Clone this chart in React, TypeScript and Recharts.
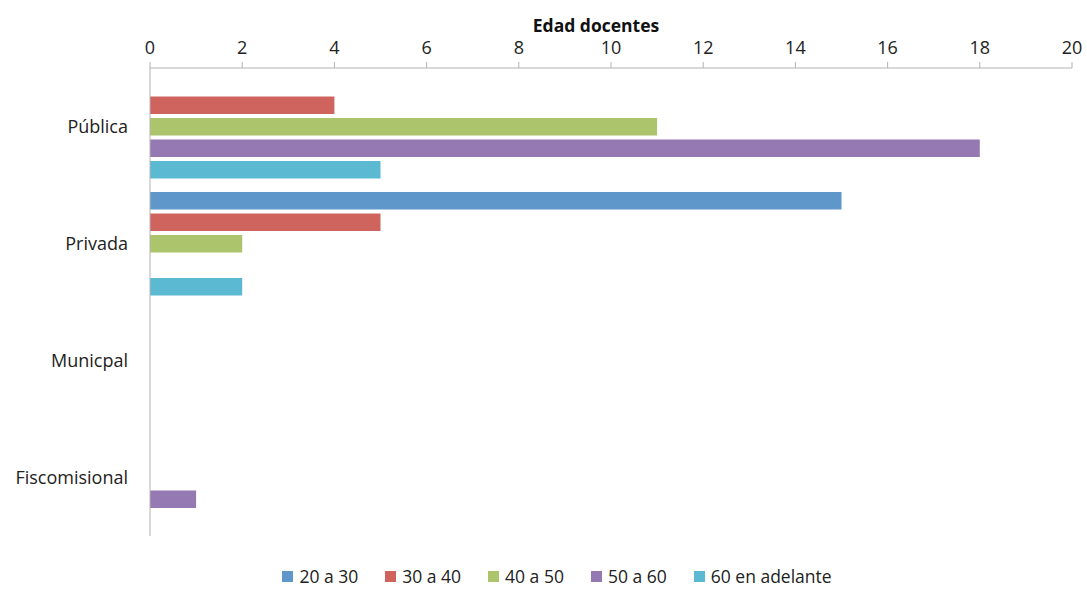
import { BarChart, Bar, XAxis, YAxis, Legend } from 'recharts';

const categories = ['Pública', 'Privada', 'Municpal', 'Fiscomisional'];
const s20a30 = [0, 15, 0, 0];
const s30a40 = [4, 5, 0, 0];
const s40a50 = [11, 2, 0, 0];
const s50a60 = [18, 0, 0, 1];
const s60mas = [5, 2, 0, 0];
const xTicks = [0, 2, 4, 6, 8, 10, 12, 14, 16, 18, 20];

const SERIES = [
  { key: 'a', name: '20 a 30', color: '#5F97CA', values: s20a30 },
  { key: 'b', name: '30 a 40', color: '#CF645F', values: s30a40 },
  { key: 'c', name: '40 a 50', color: '#ACC46C', values: s40a50 },
  { key: 'd', name: '50 a 60', color: '#9479B3', values: s50a60 },
  { key: 'e', name: '60 en adelante', color: '#5BBAD1', values: s60mas },
];

const data = categories.map((cat, i) => {
  const row: any = { cat };
  SERIES.forEach(s => { row[s.key] = s.values[i]; });
  return row;
});

const FONT = '"Open Sans", sans-serif';
const AXIS = '#b3b3b3';

function LegendBox() {
  return (
    <div style={{ display: 'flex', justifyContent: 'center', gap: 27, fontFamily: FONT, fontSize: 17.5, color: '#222', lineHeight: '24px' }}>
      {SERIES.map(s => (
        <div key={s.key} style={{ display: 'flex', alignItems: 'center', gap: 6 }}>
          <span style={{ width: 11, height: 11, background: s.color, display: 'inline-block' }} />
          <span>{s.name}</span>
        </div>
      ))}
    </div>
  );
}

export default function App() {
  return (
    <div style={{ position: 'absolute', left: 0, top: 0, width: 1087, height: 592, background: 'white' }}>
      <div style={{ position: 'absolute', left: 496, width: 200, top: 13, textAlign: 'center', fontFamily: FONT, fontSize: 17.5, fontWeight: 700, color: '#111' }}>
        Edad docentes
      </div>
      <BarChart
        layout="vertical"
        width={1087}
        height={592}
        data={data}
        margin={{ top: 10, right: 15, bottom: 32, left: 0 }}
        barSize={17.5}
        barGap={4}
      >
        <XAxis
          type="number"
          orientation="top"
          domain={[0, 20]}
          ticks={xTicks}
          height={58}
          stroke={AXIS}
          tickSize={6}
          tickMargin={8}
          tick={{ fontSize: 18, fill: '#222', fontFamily: FONT }}
        />
        <YAxis
          type="category"
          dataKey="cat"
          width={150}
          stroke={AXIS}
          tickLine={false}
          tickSize={6}
          tickMargin={16}
          tick={{ fontSize: 18, fill: '#222', fontFamily: FONT }}
        />
        {SERIES.map(s => (
          <Bar key={s.key} dataKey={s.key} name={s.name} fill={s.color} isAnimationActive={false} />
        ))}
        <Legend content={<LegendBox />} wrapperStyle={{ left: 257, width: 600, bottom: 4 }} />
      </BarChart>
    </div>
  );
}
